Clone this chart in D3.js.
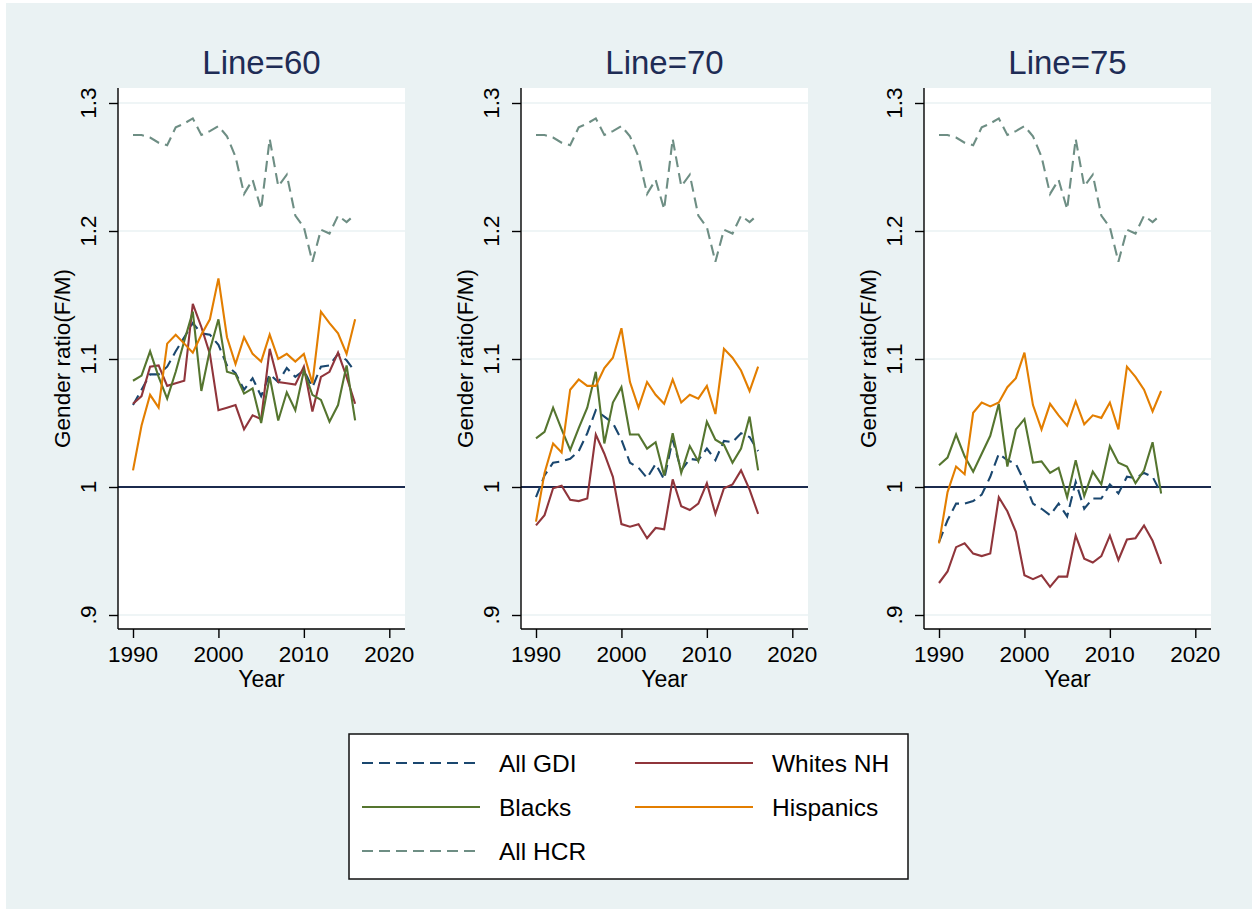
<!DOCTYPE html>
<html>
<head>
<meta charset="utf-8">
<script src="https://cdn.jsdelivr.net/npm/d3@7"></script>
<style>
  html, body { margin: 0; padding: 0; background: #fff; }
  svg { display: block; font-family: "Liberation Sans", Arial, sans-serif; }
</style>
</head>
<body>
<svg id="chart" width="1252" height="909"></svg>
<script>
// years 1990..2016
const years = d3.range(1990, 2017);

const panelTitles = ['Line=60', 'Line=70', 'Line=75'];
const yTicks = [0.9, 1.0, 1.1, 1.2, 1.3];
const yTickLabels = ['.9', '1', '1.1', '1.2', '1.3'];
const xTicks = [1990, 2000, 2010, 2020];

// All HCR (same in every panel)
const hcr = [1.275, 1.275, 1.273, 1.269, 1.267, 1.281, 1.284, 1.288, 1.275, 1.278, 1.282, 1.274, 1.258, 1.229,
  1.240, 1.217, 1.272, 1.235, 1.244, 1.212, 1.203, 1.176, 1.201, 1.198, 1.212, 1.207, 1.213];

// Line=60
const gdi60 = [1.064, 1.076, 1.088, 1.088, 1.094, 1.106, 1.117, 1.128, 1.120, 1.119, 1.111, 1.095, 1.089, 1.076,
  1.085, 1.071, 1.088, 1.082, 1.093, 1.086, 1.091, 1.078, 1.094, 1.095, 1.104, 1.099, 1.090];
const whites60 = [1.065, 1.071, 1.094, 1.095, 1.079, 1.081, 1.083, 1.143, 1.125, 1.104, 1.060, 1.062, 1.064, 1.045,
  1.056, 1.053, 1.108, 1.082, 1.081, 1.080, 1.094, 1.059, 1.086, 1.090, 1.105, 1.086, 1.065];
const blacks60 = [1.083, 1.087, 1.106, 1.086, 1.069, 1.090, 1.114, 1.137, 1.075, 1.107, 1.131, 1.090, 1.088, 1.073,
  1.077, 1.050, 1.086, 1.052, 1.074, 1.060, 1.091, 1.072, 1.068, 1.051, 1.064, 1.095, 1.052];
const hisp60 = [1.013, 1.048, 1.072, 1.062, 1.112, 1.119, 1.112, 1.105, 1.119, 1.131, 1.163, 1.117, 1.096, 1.117,
  1.104, 1.098, 1.119, 1.100, 1.104, 1.098, 1.104, 1.081, 1.137, 1.128, 1.120, 1.104, 1.131];

// Line=70
const gdi70 = [0.992, 1.009, 1.019, 1.020, 1.022, 1.028, 1.042, 1.060, 1.055, 1.050, 1.037, 1.019, 1.015, 1.007,
  1.018, 1.006, 1.037, 1.013, 1.022, 1.021, 1.030, 1.021, 1.036, 1.035, 1.042, 1.039, 1.028];
const whites70 = [0.970, 0.978, 0.999, 1.001, 0.990, 0.989, 0.991, 1.041, 1.026, 1.008, 0.971, 0.969, 0.971, 0.960,
  0.968, 0.967, 1.006, 0.985, 0.982, 0.987, 1.003, 0.979, 0.999, 1.002, 1.013, 0.998, 0.979];
const blacks70 = [1.038, 1.043, 1.062, 1.045, 1.029, 1.046, 1.062, 1.090, 1.034, 1.066, 1.078, 1.041, 1.041, 1.030,
  1.035, 1.009, 1.042, 1.011, 1.032, 1.020, 1.051, 1.037, 1.033, 1.019, 1.030, 1.055, 1.013];
const hisp70 = [0.973, 1.011, 1.034, 1.027, 1.076, 1.084, 1.079, 1.079, 1.093, 1.101, 1.124, 1.082, 1.062, 1.082,
  1.072, 1.065, 1.084, 1.066, 1.072, 1.069, 1.079, 1.057, 1.108, 1.101, 1.091, 1.075, 1.094];

// Line=75
const gdi75 = [0.957, 0.974, 0.987, 0.987, 0.989, 0.994, 1.008, 1.026, 1.021, 1.018, 1.004, 0.987, 0.983, 0.978,
  0.987, 0.977, 1.004, 0.983, 0.991, 0.991, 1.002, 0.995, 1.008, 1.007, 1.011, 1.008, 0.995];
const whites75 = [0.925, 0.934, 0.953, 0.956, 0.948, 0.946, 0.948, 0.992, 0.981, 0.965, 0.931, 0.928, 0.931, 0.922,
  0.930, 0.930, 0.962, 0.944, 0.941, 0.946, 0.962, 0.943, 0.959, 0.960, 0.970, 0.958, 0.940];
const blacks75 = [1.017, 1.023, 1.041, 1.024, 1.012, 1.026, 1.040, 1.065, 1.016, 1.045, 1.053, 1.019, 1.020, 1.011,
  1.015, 0.992, 1.021, 0.993, 1.012, 1.002, 1.032, 1.019, 1.016, 1.003, 1.013, 1.035, 0.995];
const hisp75 = [0.956, 0.996, 1.016, 1.010, 1.058, 1.066, 1.063, 1.066, 1.078, 1.085, 1.105, 1.064, 1.045, 1.065,
  1.056, 1.048, 1.067, 1.049, 1.056, 1.054, 1.066, 1.045, 1.094, 1.086, 1.076, 1.059, 1.075];

const seriesNames = ['All GDI', 'Whites NH', 'Blacks', 'Hispanics', 'All HCR'];
const panelData = [
  [gdi60, whites60, blacks60, hisp60, hcr],
  [gdi70, whites70, blacks70, hisp70, hcr],
  [gdi75, whites75, blacks75, hisp75, hcr]
];

const styles = {
  'All GDI':   { color: '#1a476f', dash: '11,6' },
  'Whites NH': { color: '#90353b', dash: null },
  'Blacks':    { color: '#55752f', dash: null },
  'Hispanics': { color: '#e37e00', dash: null },
  'All HCR':   { color: '#6e8e84', dash: '11,6' }
};

const bg = '#eaf2f3';
const titleColor = '#1e2c55';

const svg = d3.select('#chart');

// background (thin white strip at top/left as in the cropped picture)
svg.append('rect').attr('x', 0).attr('y', 0).attr('width', 1252).attr('height', 909).attr('fill', '#fff');
svg.append('rect').attr('x', 6).attr('y', 3).attr('width', 1246).attr('height', 906).attr('fill', bg);

const panelLeft = [118, 521, 924];
const plotW = 287;
const plotTop = 88;
const plotBottom = 629;

const y = d3.scaleLinear().domain([0.9, 1.3]).range([615, 103]);

panelData.forEach((data, i) => {
  const left = panelLeft[i];
  const x = d3.scaleLinear().domain([1990, 2020]).range([left + 15, left + 271.3]);
  const g = svg.append('g');

  g.append('rect')
    .attr('x', left).attr('y', plotTop)
    .attr('width', plotW).attr('height', plotBottom - plotTop)
    .attr('fill', '#fff');

  // grid lines
  g.selectAll('.grid')
    .data(yTicks.filter(d => d !== 1.0))
    .enter().append('line')
    .attr('x1', left).attr('x2', left + plotW)
    .attr('y1', d => y(d)).attr('y2', d => y(d))
    .attr('stroke', bg).attr('stroke-width', 1.6);

  // reference line at 1
  g.append('line')
    .attr('x1', left).attr('x2', left + plotW)
    .attr('y1', y(1)).attr('y2', y(1))
    .attr('stroke', '#1b2a4e').attr('stroke-width', 2.2);

  // series
  const line = d3.line()
    .x((d, k) => x(years[k]))
    .y(d => y(d));

  data.forEach((vals, s) => {
    const st = styles[seriesNames[s]];
    g.append('path')
      .datum(vals)
      .attr('d', line)
      .attr('fill', 'none')
      .attr('stroke', st.color)
      .attr('stroke-width', 2.1)
      .attr('stroke-linejoin', 'miter')
      .attr('stroke-dasharray', st.dash);
  });

  // axes
  const yAxis = d3.axisLeft(y).tickValues(yTicks).tickSize(9).tickFormat('');
  const ya = g.append('g').attr('transform', `translate(${left},0)`).call(yAxis);
  ya.select('.domain').attr('d', `M0,${plotTop}V${plotBottom}`);
  ya.selectAll('line, path').attr('stroke', '#000').attr('stroke-width', 1.4);

  const xAxis = d3.axisBottom(x).tickValues(xTicks).tickSize(9).tickFormat('');
  const xa = g.append('g').attr('transform', `translate(0,${plotBottom})`).call(xAxis);
  xa.select('.domain').attr('d', `M${left},0H${left + plotW}`);
  xa.selectAll('line, path').attr('stroke', '#000').attr('stroke-width', 1.4);

  // y tick labels, rotated
  g.selectAll('.ylab')
    .data(yTicks)
    .enter().append('text')
    .attr('transform', d => `translate(${left - 22},${y(d)}) rotate(-90)`)
    .attr('text-anchor', 'middle')
    .attr('font-size', 22.5)
    .attr('fill', '#000')
    .text((d, k) => yTickLabels[k]);

  // x tick labels
  g.selectAll('.xlab')
    .data(xTicks)
    .enter().append('text')
    .attr('x', d => x(d))
    .attr('y', 662)
    .attr('text-anchor', 'middle')
    .attr('font-size', 22.5)
    .attr('fill', '#000')
    .text(d => d);

  g.append('text')
    .attr('x', left + plotW / 2).attr('y', 687)
    .attr('text-anchor', 'middle')
    .attr('font-size', 23)
    .attr('fill', '#000')
    .text('Year');

  g.append('text')
    .attr('transform', `translate(${left - 48},${(plotTop + plotBottom) / 2}) rotate(-90)`)
    .attr('text-anchor', 'middle')
    .attr('font-size', 22.5)
    .attr('fill', '#000')
    .text('Gender ratio(F/M)');

  g.append('text')
    .attr('x', left + plotW / 2).attr('y', 74)
    .attr('text-anchor', 'middle')
    .attr('font-size', 33)
    .attr('fill', titleColor)
    .text(panelTitles[i]);
});

// legend
const legend = svg.append('g');
legend.append('rect')
  .attr('x', 349).attr('y', 734)
  .attr('width', 559).attr('height', 145)
  .attr('fill', '#fff').attr('stroke', '#111').attr('stroke-width', 1.5);

const legendPos = [
  { col: 0, row: 0 }, { col: 1, row: 0 },
  { col: 0, row: 1 }, { col: 1, row: 1 },
  { col: 0, row: 2 }
];
const colX = [362, 635];
const rowY = [763, 807, 851];

seriesNames.forEach((name, k) => {
  const p = legendPos[k];
  const st = styles[name];
  const lx = colX[p.col];
  const ly = rowY[p.row];
  legend.append('line')
    .attr('x1', lx).attr('x2', lx + 118)
    .attr('y1', ly).attr('y2', ly)
    .attr('stroke', st.color).attr('stroke-width', 2.2)
    .attr('stroke-dasharray', st.dash);
  legend.append('text')
    .attr('x', lx + 137).attr('y', ly + 9)
    .attr('font-size', 24.5)
    .attr('fill', '#000')
    .text(name);
});
</script>
</body>
</html>
